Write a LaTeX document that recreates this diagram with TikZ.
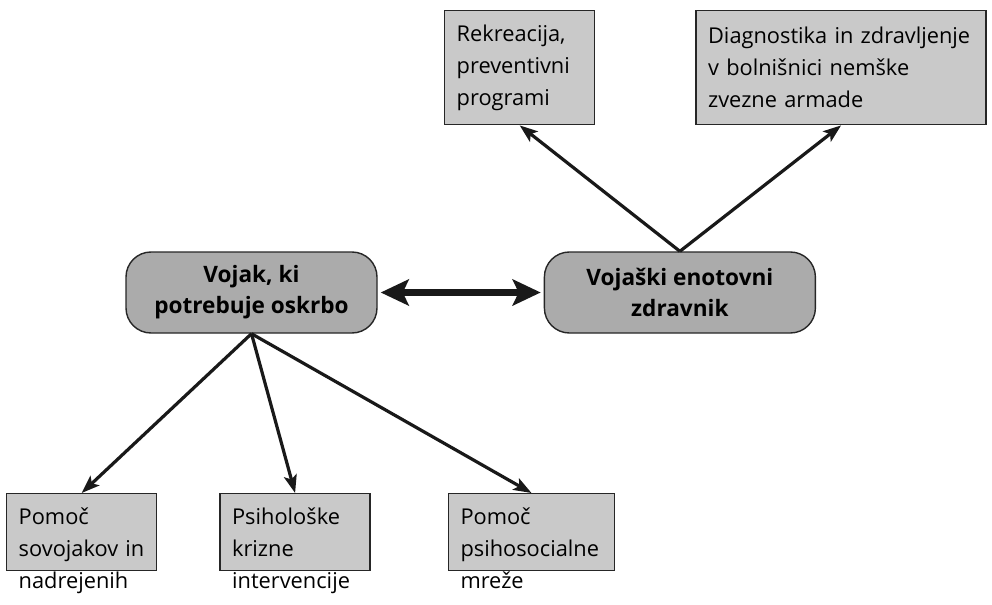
\documentclass[tikz,border=0pt]{standalone}
\usepackage{fontspec}
\setmainfont{Open Sans}
\usetikzlibrary{positioning,arrows.meta}
\tikzset{>={Stealth[length=9pt,width=6.5pt,inset=2pt]}}

\begin{document}
\begin{tikzpicture}[x=0.5pt, y=-0.5pt,
  box/.style={draw=black!85, fill=black!21, line width=0.7pt, inner xsep=6pt, inner ysep=5pt, align=left, anchor=north west, font=\fontsize{10.9}{16}\selectfont},
  hub/.style={draw=black!85, fill=black!33, line width=0.7pt, rounded corners=12.5pt, align=center, minimum height=40.5pt, font=\fontsize{11.3}{15.5}\selectfont\bfseries},
  link/.style={->, line width=1.6pt, black!90},
  both/.style={{Stealth[length=14pt,width=13pt,inset=3pt]}-{Stealth[length=14pt,width=13pt,inset=3pt]}, line width=3.5pt, black!90, shorten <=1.5pt, shorten >=1.5pt}]
\useasboundingbox (0,0) rectangle (992,605);
\clip (0,0) rectangle (992,605);
\node[hub, minimum width=125.5pt] (vojak) at (251.5,292.5) {Vojak, ki\\potrebuje oskrbo};
\node[hub, minimum width=135.5pt, right=83pt of vojak] (zdravnik) {Vojaški enotovni\\zdravnik};
\node[box, text width=63pt, minimum height=57pt] (rekr) at (444,10) {Rekreacija,\\preventivni\\programi};
\node[box, text width=133pt, minimum height=57pt, right=50pt of rekr] (diag) {Diagnostika in zdravljenje\\v bolnišnici nemške\\zvezne armade};
\node[box, text width=63pt, inner ysep=7pt, text depth=16pt] (sov) at (6,493) {Pomoč\\sovojakov in\\nadrejenih};
\node[box, text width=63pt, inner ysep=7pt, text depth=16pt, right=31pt of sov] (krize) {Psihološke\\krizne\\intervencije};
\node[box, text width=71pt, inner ysep=7pt, text depth=16pt, right=38.5pt of krize] (mreza) {Pomoč\\psihosocialne\\mreže};
\draw[link] (zdravnik.north) -- (rekr.south); \draw[link] (zdravnik.north) -- (diag.south);
\draw[link] (vojak.south) -- (sov.north); \draw[link] (vojak.south) -- (krize.north);
\draw[link] (vojak.south) -- (mreza.north);
\draw[both] (vojak) -- (zdravnik);
\end{tikzpicture}
\end{document}
